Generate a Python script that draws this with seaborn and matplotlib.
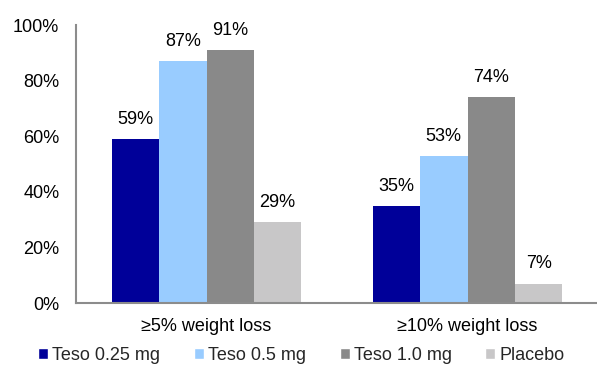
import matplotlib
matplotlib.use("Agg")
import matplotlib.pyplot as plt
import seaborn as sns
import pandas as pd

categories = ["\u22655% weight loss", "\u226510% weight loss"]
groups = ["Teso 0.25 mg", "Teso 0.5 mg", "Teso 1.0 mg", "Placebo"]
teso_025 = [59, 35]
teso_05 = [87, 53]
teso_10 = [91, 74]
placebo = [29, 7]
colors = ["#000099", "#99CCFF", "#898989", "#C8C7C8"]
yticks = [0, 20, 40, 60, 80, 100]

sns.set_theme(style="white")
plt.rcParams["font.family"] = ["Liberation Sans", "DejaVu Sans"]
FS = 13

rows = []
for g, vals in zip(groups, [teso_025, teso_05, teso_10, placebo]):
    for c, v in zip(categories, vals):
        rows.append({"category": c, "group": g, "value": v})
df = pd.DataFrame(rows)

fig = plt.figure(figsize=(5.97, 3.65), dpi=100)
ax = fig.add_axes([76 / 597, 1 - 303 / 365, 522 / 597, 278 / 365])

sns.barplot(data=df, x="category", y="value", hue="group", hue_order=groups,
            palette=colors, width=0.727, saturation=1, ax=ax, legend=True)

for cont in ax.containers:
    for bar in cont:
        bar.set_edgecolor("none")
    ax.bar_label(cont, labels=[f"{int(round(b.get_height()))}%" for b in cont],
                 padding=8, fontsize=FS, color="black")

ax.set_ylim(0, 100)
ax.set_yticks(yticks)
ax.set_yticklabels([f"{t}%" for t in yticks], fontsize=FS)
ax.set_xlabel("")
ax.set_ylabel("")
ax.tick_params(axis="x", labelsize=FS, length=0, pad=11, colors="black")
ax.tick_params(axis="y", length=0, pad=12, colors="black")

for s in ["top", "right"]:
    ax.spines[s].set_visible(False)
for s in ["left", "bottom"]:
    ax.spines[s].set_color("#8c8c8c")
    ax.spines[s].set_linewidth(1.5)

handles, labels = ax.get_legend_handles_labels()
ax.legend_.remove()
fig.legend(handles, labels, loc="center", bbox_to_anchor=(0.505, 1 - 355 / 365),
           ncol=4, frameon=False, fontsize=FS, handlelength=0.55, handleheight=0.55,
           handletextpad=0.25, columnspacing=1.85, borderaxespad=0)

fig.savefig("out.png", dpi=100)
